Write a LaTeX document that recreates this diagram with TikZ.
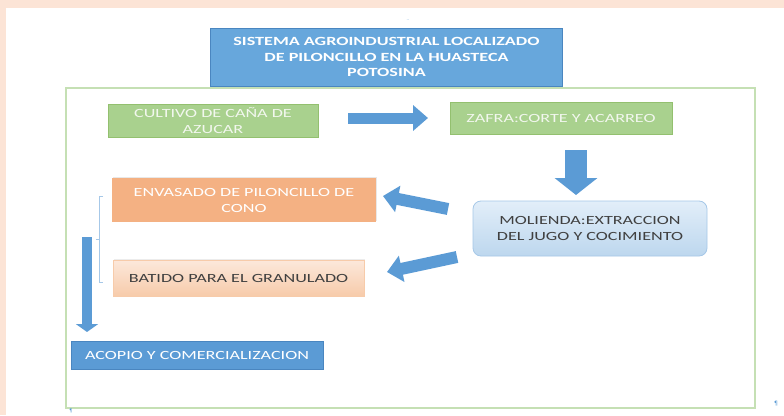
\documentclass[tikz,border=0pt]{standalone}
\usepackage{fontspec}
\setmainfont{Carlito}[FakeStretch=1.45]
\newfontfamily\symfont{DejaVu Sans}
\usetikzlibrary{arrows.meta,shadows}
\definecolor{peach}{HTML}{FCE4D6}
\definecolor{frameg}{HTML}{C5E0B4}
\definecolor{boxblue}{HTML}{5B9BD5}
\definecolor{titleblue}{HTML}{67A7DC}
\definecolor{blueedge}{HTML}{4A86C0}
\definecolor{boxgreen}{HTML}{A9D18E}
\definecolor{greenedge}{HTML}{93C06F}
\definecolor{boxorange}{HTML}{F4B183}
\definecolor{lightpeach}{HTML}{FCE8DB}
\definecolor{midpeach}{HTML}{F7CBAA}
\definecolor{lblue1}{HTML}{E2EEF9}
\definecolor{lblue2}{HTML}{BDD7EE}
\definecolor{lbluedge}{HTML}{A6C8E8}
\definecolor{darktext}{HTML}{404040}
\definecolor{pale}{HTML}{F2F7EE}
\tikzset{
  box/.style={rectangle, inner sep=0pt, align=center, font=\fontsize{12.5}{16}\selectfont},
  greenbox/.style={box, fill=boxgreen, draw=greenedge, line width=0.8pt, text=pale},
  flowarrow/.style={draw=boxblue, line width=#1},
}
\begin{document}
\begin{tikzpicture}[x=1pt,y=-1pt]
\useasboundingbox (0,0) rectangle (784,415);
\fill[peach] (0,0) rectangle (784,415);
\fill[white] (6,8) rectangle (784,415);
% frame
\draw[frameg, line width=1.6pt] (66,88) rectangle (755,408);
% title
\node[box, fill=titleblue, draw=blueedge, line width=0.6pt, text=white,
      minimum width=352pt, minimum height=58pt,
      font=\fontsize{12.5}{15.5}\selectfont\bfseries] (title) at (386.5,57)
  {SISTEMA AGROINDUSTRIAL LOCALIZADO\\DE PILONCILLO EN LA HUASTECA\\POTOSINA};
% boxes
\node[greenbox, minimum width=210pt, minimum height=33pt] (cultivo) at (213,120.5)
  {CULTIVO DE CAÑA DE\\AZUCAR};
\node[greenbox, minimum width=222pt, minimum height=32pt] (zafra) at (561,118)
  {ZAFRA:CORTE Y ACARREO};
\node[box, rounded corners=8pt, top color=lblue1, bottom color=lblue2, draw=lbluedge,
      line width=0.8pt, text=darktext, minimum width=234pt, minimum height=55pt] (molienda) at (590,228.5)
  {MOLIENDA:EXTRACCION\\DEL JUGO Y COCIMIENTO};
\node[box, fill=boxorange, text=white, minimum width=264pt, minimum height=44pt,
      drop shadow={opacity=0.18, shadow xshift=1pt, shadow yshift=1pt}] (envasado) at (244,200)
  {ENVASADO DE PILONCILLO DE\\CONO};
\node[box, top color=lightpeach, bottom color=midpeach, draw=midpeach, line width=0.5pt, text=darktext,
      minimum width=251pt, minimum height=36pt,
      drop shadow={opacity=0.15, shadow xshift=1pt, shadow yshift=1pt}] (batido) at (238.5,278)
  {BATIDO PARA EL GRANULADO};
\node[box, fill=boxblue, draw=blueedge, line width=0.6pt, text=white,
      minimum width=252pt, minimum height=28pt] (acopio) at (197,355)
  {ACOPIO Y COMERCIALIZACION};
% arrow end points
\coordinate (a1s) at (348,118);
\coordinate (a1e) at (428,118);
\coordinate (a2s) at (576,150);
\coordinate (a2e) at (576,195);
\coordinate (a3s) at (448,209);
\coordinate (a3e) at (383,196);
\coordinate (a4s) at (457,257);
\coordinate (a4e) at (387,272);
\coordinate (a5s) at (87,237);
\coordinate (a5e) at (87,332);
% block arrows
\draw[flowarrow=11pt, -{Triangle[width=25pt,length=15pt]}, boxblue] (a1s) -- (a1e);
\draw[flowarrow=22pt, -{Triangle[width=42pt,length=17pt]}, boxblue] (a2s) -- (a2e);
\draw[flowarrow=12pt, -{Triangle[width=26pt,length=15pt]}, boxblue] (a3s) -- (a3e);
\draw[flowarrow=12pt, -{Triangle[width=26pt,length=15pt]}, boxblue] (a4s) -- (a4e);
\draw[flowarrow=10pt, -{Triangle[width=22pt,length=8pt]}, boxblue] (a5s) -- (a5e);
% bracket
\coordinate (bt) at (99,196);
\coordinate (bb) at (99,282);
\coordinate (bm) at (99,239);
\draw[lbluedge, line width=0.6pt] ([xshift=4pt]bt) -- (bt) -- (bb) -- ([xshift=4pt]bb);
\draw[lbluedge, line width=0.6pt] (bm) -- ([xshift=-3pt]bm);
% small marks
\node[text=boxblue, font=\symfont\fontsize{4}{4}\selectfont, inner sep=0pt] (m1) at (408,21) {··};
\node[text=boxblue, font=\symfont\fontsize{6}{6}\selectfont, inner sep=0pt] (m2) at (776,404) {¶};
\node[text=boxblue, font=\symfont\fontsize{5}{5}\selectfont, inner sep=0pt] (m3) at (71,411) {¶};
\end{tikzpicture}
\end{document}
